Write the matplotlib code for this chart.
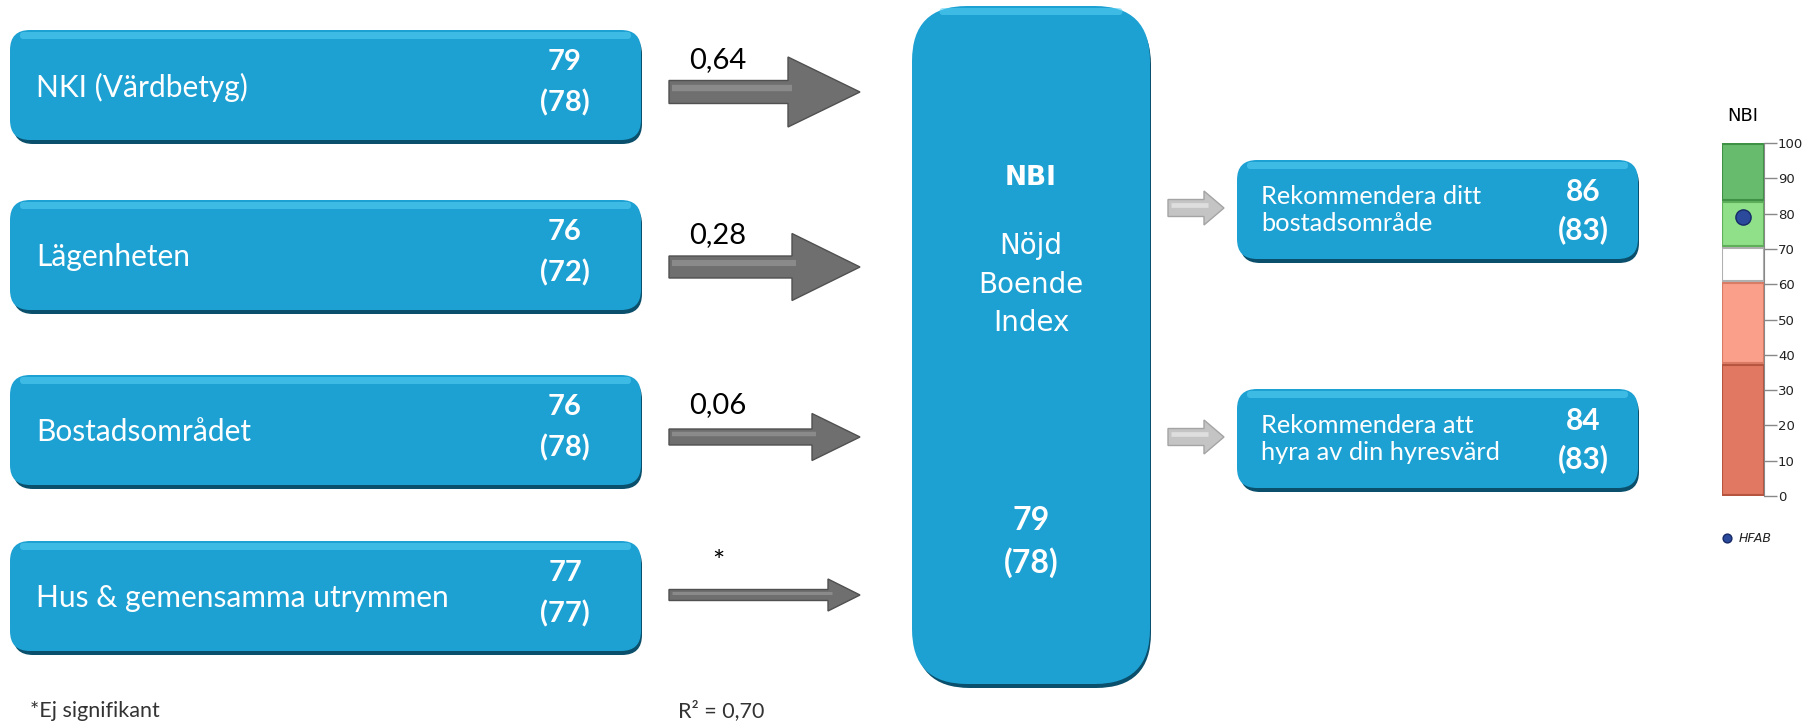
import matplotlib
matplotlib.use("Agg")
import matplotlib.pyplot as plt
from matplotlib.patches import FancyBboxPatch, FancyArrow

plt.rcParams['font.family'] = ['Lato', 'DejaVu Sans']

# data
left_labels = ["NKI (Värdbetyg)", "Lägenheten", "Bostadsområdet", "Hus & gemensamma utrymmen"]
left_now = [79, 76, 76, 77]
left_prev = [78, 72, 78, 77]
coef_labels = ["0,64", "0,28", "0,06", "*"]
nbi_now = 79
nbi_prev = 78
right_labels = ["Rekommendera ditt\nbostadsområde", "Rekommendera att\nhyra av din hyresvärd"]
right_now = [86, 84]
right_prev = [83, 83]
gauge_bounds = [0, 37.5, 60.5, 70.5, 83.5, 100]
hfab_value = 79
r_squared = "0,70"

# styles
BLUE = '#1da1d3'
LIGHT = '#5ad2f5'
DARK = '#0a4f6b'
gauge_colors = ['#e07862', '#fa9f8a', '#ffffff', '#90e08a', '#66bb6c']
gauge_edges = ['#b5543f', '#d97a64', '#b0b0b0', '#5fae5a', '#3f9146']

W, H = 1814, 725
fig = plt.figure(figsize=(W / 100, H / 100), dpi=100)
ax = fig.add_axes([0, 0, 1, 1])
ax.set_xlim(0, W)
ax.set_ylim(H, 0)
ax.axis('off')


def bevel_box(x0, y0, w, h, r):
    # shadow, body, soft highlight along the top
    ax.add_patch(FancyBboxPatch((x0 + 3, y0 + 4), w - 2, h, boxstyle=f"round,pad=0,rounding_size={r}",
                                fc=DARK, ec='none', zorder=1))
    ax.add_patch(FancyBboxPatch((x0, y0), w, h, boxstyle=f"round,pad=0,rounding_size={r}",
                                fc=BLUE, ec='none', zorder=2))
    ax.add_patch(FancyBboxPatch((x0 + r * 0.5, y0 + 2), w - r * 1.0, 7,
                                boxstyle="round,pad=0,rounding_size=3.5",
                                fc=LIGHT, ec='none', alpha=0.55, zorder=3))


def grey_arrow(x0, x1, y, shaft, head, hl, fc, ec, hi):
    ax.add_patch(FancyArrow(x0, y, x1 - x0, 0, width=shaft, head_width=head, head_length=hl,
                            length_includes_head=True, fc=fc, ec=ec, lw=1, zorder=4))
    ax.plot([x0 + 3, x1 - hl + 4], [y - shaft * 0.18, y - shaft * 0.18], color=hi,
            lw=max(shaft * 0.2, 1.2), solid_capstyle='butt', zorder=5)


# left boxes
box_tops = [30, 200, 375, 541]
arrow_y = [92, 267, 437, 595]
shafts = [23, 22, 16, 11]
heads = [70, 67, 47, 32]
head_lens = [72, 68, 48, 32]
for i, lab in enumerate(left_labels):
    top = box_tops[i]
    bevel_box(10, top, 631, 110, 20)
    ax.text(36, top + 57, lab, color='white', fontsize=21.5, va='center', ha='left', zorder=6)
    ax.text(565, top + 32, str(left_now[i]), color='white', fontsize=21, fontweight='bold',
            va='center', ha='center', zorder=6)
    ax.text(565, top + 73, f"({left_prev[i]})", color='white', fontsize=21, fontweight='bold',
            va='center', ha='center', zorder=6)
    grey_arrow(669, 860, arrow_y[i], shafts[i], heads[i], head_lens[i], '#6f6f6f', '#505050', '#8a8a8a')
    ax.text(718, arrow_y[i] - 32, coef_labels[i], fontsize=21, color='black', ha='center', va='center')

# centre box
bevel_box(912, 6, 238, 678, 55)
cx = 1031
ax.text(cx, 178, "NBI", color='white', fontsize=19, fontweight='bold', family='DejaVu Sans',
        ha='center', va='center', zorder=6)
for txt, yy in zip(["Nöjd", "Boende", "Index"], [246, 285, 323]):
    ax.text(cx, yy, txt, color='white', fontsize=20, family='DejaVu Sans', ha='center', va='center', zorder=6)
ax.text(cx, 520, str(nbi_now), color='white', fontsize=23, fontweight='bold', ha='center', va='center', zorder=6)
ax.text(cx, 563, f"({nbi_prev})", color='white', fontsize=23, fontweight='bold', ha='center', va='center', zorder=6)

# right boxes
right_tops = [160, 389]
right_arrow_y = [208, 437]
for i, lab in enumerate(right_labels):
    top = right_tops[i]
    bevel_box(1237, top, 401, 99, 20)
    ax.text(1261, top + 50, lab, color='white', fontsize=18.3, va='center', ha='left', linespacing=1.2, zorder=6)
    ax.text(1583, top + 32, str(right_now[i]), color='white', fontsize=21.5, fontweight='bold',
            va='center', ha='center', zorder=6)
    ax.text(1583, top + 70, f"({right_prev[i]})", color='white', fontsize=21.5, fontweight='bold',
            va='center', ha='center', zorder=6)
    grey_arrow(1168, 1224, right_arrow_y[i], 17, 34, 20, '#c4c4c4', '#a4a4a4', '#dedede')

# footnotes
ax.text(30, 711, "*Ej signifikant", fontsize=15.5, color='#333333', va='center', ha='left')
ax.text(678, 711, f"R² = {r_squared}", fontsize=15.5, color='#333333', va='center', ha='left')

# gauge
gx = fig.add_axes([1722 / W, (H - 496) / H, 42 / W, 353 / H])
for i in range(len(gauge_colors)):
    b0, b1 = gauge_bounds[i], gauge_bounds[i + 1]
    gx.bar(0, b1 - b0 - 0.6, bottom=b0 + 0.3, width=1, color=gauge_colors[i], edgecolor=gauge_edges[i],
           linewidth=1.5)
gx.scatter([0], [hfab_value], s=120, color='#2b4a9c', edgecolor='#152a66', zorder=5)
gx.set_xlim(-0.5, 0.5)
gx.set_ylim(0, 100)
gx.set_xticks([])
gx.set_yticks(range(0, 101, 10))
gx.yaxis.tick_right()
for s in ['left', 'top', 'bottom']:
    gx.spines[s].set_visible(False)
gx.spines['right'].set_color('#888888')
gx.tick_params(axis='y', length=9, width=1, color='#888888', labelsize=9.5, pad=1, labelcolor='#222222')
for t in gx.get_yticklabels():
    t.set_family('DejaVu Sans')
gx.set_title("NBI", fontsize=13, family='DejaVu Sans', pad=16)

ax.scatter([1727], [538], s=40, color='#2b4a9c', edgecolor='#152a66', zorder=5)
ax.text(1739, 538, "HFAB", fontsize=9, style='italic', family='DejaVu Sans', color='#222222', va='center')

fig.savefig("out.png", dpi=100)
